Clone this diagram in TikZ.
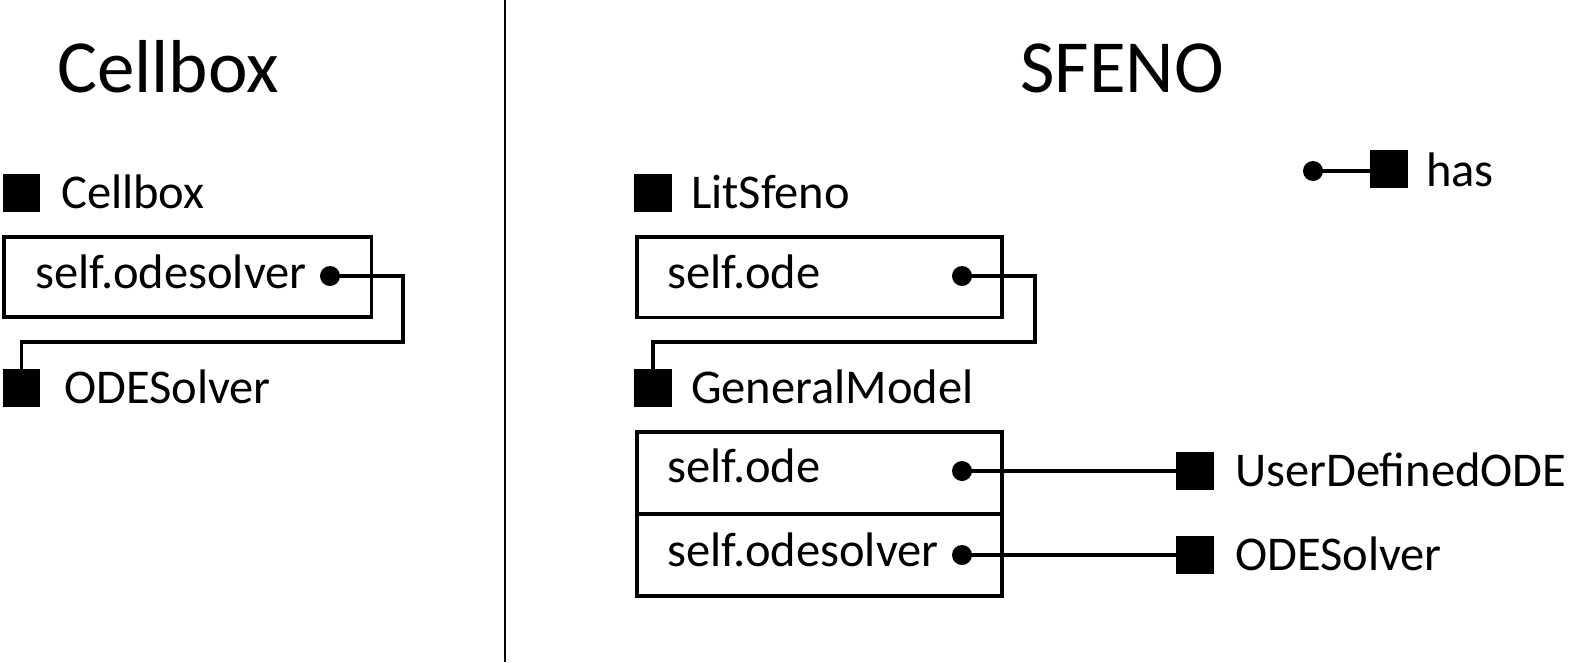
\documentclass[tikz,border=0pt]{standalone}
\usepackage{fontspec}
\setmainfont{Carlito}
\begin{document}
\begin{tikzpicture}[x=1pt,y=-1pt,
  lbl/.style={inner sep=0pt, anchor=base west, font=\fontsize{48.5}{60}\selectfont},
  ttl/.style={inner sep=0pt, anchor=base west, font=\fontsize{75}{90}\selectfont},
  sq/.style={fill=black, inner sep=0pt, minimum size=37.5pt, outer sep=0pt},
  dotn/.style={circle, fill=black, inner sep=0pt, minimum size=20pt},
  fbox/.style={draw, line width=3.8pt, inner sep=0pt, anchor=north west},
  conn/.style={line width=3.3pt},
  divider/.style={line width=2pt}]
\useasboundingbox (0,0) rectangle (1572,662);
% divider
\coordinate (dvT) at (505,0);
\coordinate (dvB) at (505,662);
\draw[divider] (dvT) -- (dvB);
% titles
\node[ttl] (tCell) at (57,92) {Cellbox};
\node[ttl] (tSf) at (1020,92) {SFENO};
% ---- left panel
\node[sq] (sqCell) at (21.5,193) {};
\node[lbl] (lCell) at (61,208) {Cellbox};
\node[fbox, minimum width=367.5pt, minimum height=80pt] (bL) at (2,235) {};
\node[lbl] (tL) at (35,288) {self.odesolver};
\node[dotn] (dL) at (330,276) {};
\node[sq] (sqOdeL) at (21.5,388) {};
\node[lbl] (lOdeL) at (64,403) {ODESolver};
\coordinate (kL1) at (403,342);
\coordinate (kL2) at (21.5,342);
\draw[conn] (dL.center) -| (kL1) -- (kL2) -- (sqOdeL.north);
% ---- right panel
\node[sq] (sqLit) at (653,193) {};
\node[lbl] (lLit) at (691,208) {LitSfeno};
\node[fbox, minimum width=365pt, minimum height=80.5pt] (bR1) at (635,235) {};
\node[lbl] (tR1) at (667,288) {self.ode};
\node[dotn] (dR1) at (962,276) {};
\node[sq] (sqGen) at (653,388) {};
\node[lbl] (lGen) at (691,403) {GeneralModel};
\coordinate (kR1) at (1035,342);
\coordinate (kR2) at (653,342);
\draw[conn] (dR1.center) -| (kR1) -- (kR2) -- (sqGen.north);
% general model boxes
\node[fbox, minimum width=365pt, minimum height=82pt] (bG1) at (635,430) {};
\node[fbox, minimum width=365pt, minimum height=82pt] (bG2) at (635,512) {};
\node[lbl] (tG1) at (667,482) {self.ode};
\node[lbl] (tG2) at (667,566) {self.odesolver};
\node[dotn] (dG1) at (962,471) {};
\node[dotn] (dG2) at (962,555) {};
\node[sq] (sqUser) at (1195,471) {};
\node[sq] (sqSolv) at (1195,555) {};
\node[lbl] (lUser) at (1235,486) {UserDefinedODE};
\node[lbl] (lSolv) at (1235,570) {ODESolver};
\draw[conn] (dG1.center) -- (dG1.center -| sqUser.west);
\draw[conn] (dG2.center) -- (dG2.center -| sqSolv.west);
% legend
\node[dotn] (dHas) at (1313,171) {};
\node[sq] (sqHas) at (1389,169) {};
\node[lbl] (lHas) at (1426,186) {has};
\draw[conn] (dHas.center) -- (dHas.center -| sqHas.west);
\end{tikzpicture}
\end{document}
